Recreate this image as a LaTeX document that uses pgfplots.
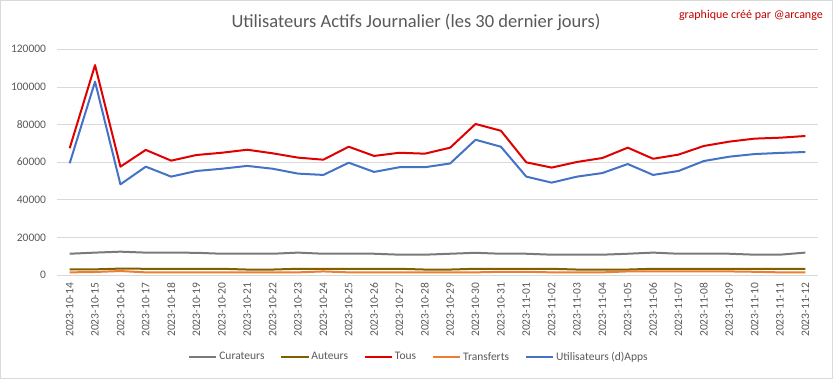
\documentclass[border=0pt]{standalone}
\usepackage{pgfplots}
\pgfplotsset{compat=1.18}
\usepackage{pgfplotstable}
\usepackage{fontspec}
\setmainfont{Carlito}
\definecolor{cCur}{HTML}{7A7A7A}
\definecolor{cAut}{HTML}{7F6000}
\definecolor{cTous}{HTML}{E00000}
\definecolor{cTra}{HTML}{ED7D31}
\definecolor{cApp}{HTML}{4472C4}
\definecolor{cGrid}{HTML}{D9D9D9}
\definecolor{cTxt}{HTML}{595959}
\definecolor{cMark}{HTML}{C00000}

\pgfplotstableread{
x cur aut tous tra app
0 11300 3000 67400 1400 59400
1 11900 3000 111600 1600 102800
2 12400 3400 57600 2100 48200
3 11900 3300 66500 1400 57600
4 11900 3300 60800 1400 52300
5 11800 3300 63800 1400 55300
6 11300 3300 65000 1400 56500
7 11300 2900 66600 1400 58000
8 11300 2900 64700 1400 56500
9 11900 3300 62400 1400 53900
10 11300 3300 61300 1900 53200
11 11300 3300 68200 1400 59700
12 11300 3300 63300 1400 54800
13 10800 3300 65000 1400 57300
14 10800 2900 64500 1400 57300
15 11300 2900 67700 1400 59300
16 11800 3300 80300 1400 71900
17 11300 3300 76700 1700 68200
18 11300 3300 59900 1700 52300
19 10800 3300 57100 1400 49100
20 10800 2900 60100 1400 52300
21 10800 2900 62200 1400 54200
22 11300 2900 67700 1900 59000
23 11900 3300 61800 1900 53200
24 11300 3300 64000 1900 55300
25 11300 3300 68600 1900 60600
26 11300 3300 70900 1900 62900
27 10800 3300 72500 1700 64300
28 10800 3300 73000 1400 64900
29 11900 3300 73900 1400 65400
}\datatable

\begin{document}
\begin{tikzpicture}[x=1pt,y=1pt]
\path[use as bounding box] (0,0) rectangle (833,379);
\draw[cGrid, line width=0.8pt] (0.4,0.4) rectangle (832.6,378.6);
\begin{axis}[
  at={(57pt,104pt)}, anchor=south west,
  scale only axis, width=761pt, height=225.7pt,
  xmin=-0.5, xmax=29.5, ymin=0, ymax=120000,
  xtick={0,...,29},
  xticklabels={2023-10-14,2023-10-15,2023-10-16,2023-10-17,2023-10-18,2023-10-19,2023-10-20,2023-10-21,2023-10-22,2023-10-23,2023-10-24,2023-10-25,2023-10-26,2023-10-27,2023-10-28,2023-10-29,2023-10-30,2023-10-31,2023-11-01,2023-11-02,2023-11-03,2023-11-04,2023-11-05,2023-11-06,2023-11-07,2023-11-08,2023-11-09,2023-11-10,2023-11-11,2023-11-12},
  ytick={0,20000,...,120000},
  scaled y ticks=false,
  yticklabel style={/pgf/number format/fixed, /pgf/number format/1000 sep={}},
  /pgf/number format/assume math mode=true,
  ymajorgrids, grid style={cGrid, line width=0.8pt},
  axis x line*=bottom, axis y line*=left,
  x axis line style={cGrid, line width=0.8pt, -},
  y axis line style={draw=none},
  major tick length=0pt,
  tick label style={font=\fontsize{11.5}{13}\selectfont, text=cTxt},
  xticklabel style={rotate=90, anchor=east},
  x tick label style={inner sep=0pt, outer sep=0pt},
  y tick label style={inner sep=0pt, outer sep=0pt},
  xticklabel shift=8pt,
  yticklabel shift=11pt,
  legend columns=5,
  legend style={at={(0.4757,-0.3633)}, anchor=center, draw=none, fill=none,
    font=\fontsize{11.5}{13}\selectfont, text=cTxt,
    /tikz/every even column/.append style={column sep=14pt},
    inner sep=0pt},
  legend image code/.code={\draw[#1, line width=2pt] (0pt,0pt) -- (27pt,0pt);},
  legend cell align=left,
  line join=round,
]
\addplot[cCur, line width=2pt] table[x=x,y=cur] {\datatable};
\addlegendentry{Curateurs}
\addplot[cAut, line width=2pt] table[x=x,y=aut] {\datatable};
\addlegendentry{Auteurs}
\addplot[cTous, line width=2pt] table[x=x,y=tous] {\datatable};
\addlegendentry{Tous}
\addplot[cTra, line width=2pt] table[x=x,y=tra] {\datatable};
\addlegendentry{Transferts}
\addplot[cApp, line width=2pt] table[x=x,y=app] {\datatable};
\addlegendentry{Utilisateurs (d)Apps}
\end{axis}
\node[anchor=base, text=cTxt, font=\fontsize{18.5}{22}\selectfont, inner sep=0pt] at (416,351) {Utilisateurs Actifs Journalier (les 30 dernier jours)};
\node[anchor=base east, text=cMark, font=\fontsize{12}{14}\selectfont, inner sep=0pt] at (823,360) {graphique créé par @arcange};
\end{tikzpicture}
\end{document}
